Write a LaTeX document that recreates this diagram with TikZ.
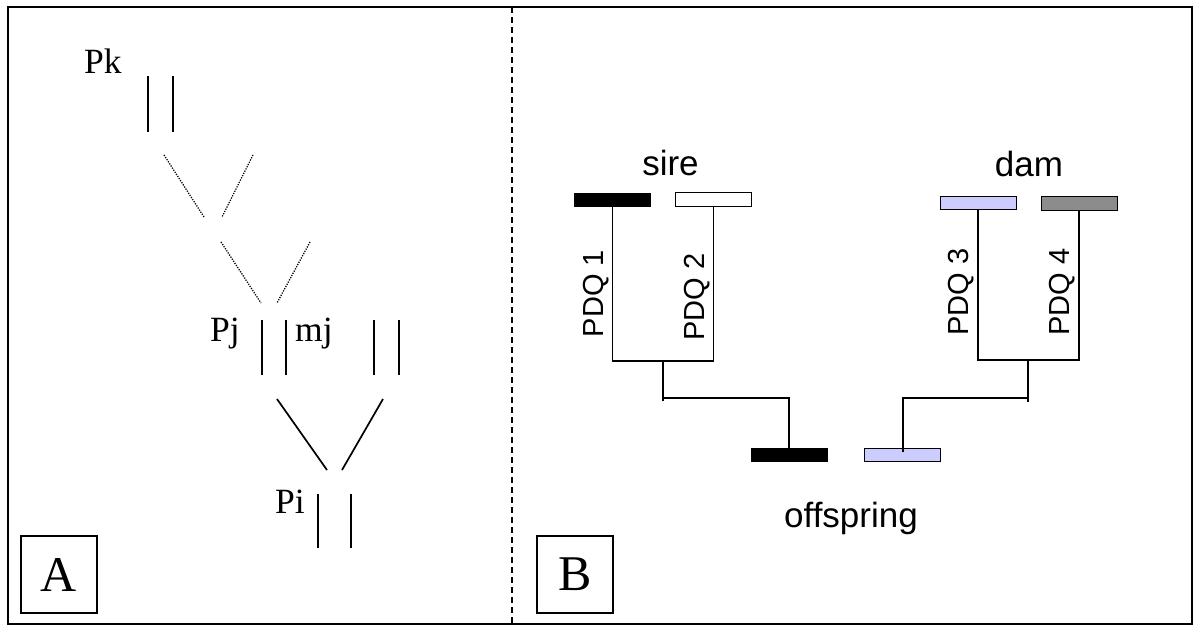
\documentclass[tikz,border=0pt]{standalone}
\usepackage{fontspec}
\setmainfont{Liberation Serif}
\setsansfont{Liberation Sans}
\definecolor{lblue}{HTML}{CCCCFF}
\definecolor{dgray}{HTML}{8C8C8C}
\tikzset{
  frameline/.style={line width=1.8pt},
  panelbox/.style={draw, line width=1.3pt, minimum width=76pt, minimum height=77pt, inner sep=0pt, font=\fontsize{50}{55}\selectfont},
  chrom/.style={line width=1.7pt},
  dotline/.style={line width=1.3pt, dash pattern=on 1.2pt off 1.3pt},
  solidline/.style={line width=1.7pt},
  serlabel/.style={anchor=base west, inner sep=0pt, font=\fontsize{35.5}{40}\selectfont},
  sanslabel/.style={anchor=base, inner sep=0pt, font=\sffamily\fontsize{35}{40}\selectfont},
  pdq/.style={rotate=90, inner sep=0pt, font=\sffamily\fontsize{29}{33}\selectfont},
  bar/.style={draw, line width=1pt, minimum width=76pt, minimum height=13pt, inner sep=0pt},
  conn/.style={line width=1.2pt}
}
\begin{document}
\begin{tikzpicture}[x=1pt,y=-1pt]
\useasboundingbox (0,0) rectangle (1200,632);
% outer frame and divider
\draw[frameline] (8,7) rectangle (1192,624);
\coordinate (divtop) at (512,7);
\coordinate (divbot) at (512,624);
\draw[line width=1.2pt, dash pattern=on 6pt off 4pt] (divtop) -- (divbot);
% panel boxes
\node[panelbox] (boxA) at (59,574.5) {A};
\node[panelbox] (boxB) at (575,574.5) {B};

% ---------- Panel A ----------
\node[serlabel] (Pk) at (84,73) {Pk};
\node[serlabel] (Pj) at (210,341) {Pj};
\node[serlabel] (mj) at (295,341) {mj};
\node[serlabel] (Pi) at (275,513) {Pi};
% chromosome pairs
\draw[chrom] (148,76) -- (148,132);
\draw[chrom] (173,76) -- (173,132);
\draw[chrom] (262,320) -- (262,375);
\draw[chrom] (286,320) -- (286,375);
\draw[chrom] (374,320) -- (374,375);
\draw[chrom] (399,320) -- (399,375);
\draw[chrom] (318,494) -- (318,548);
\draw[chrom] (351,494) -- (351,548);
% dotted lineage
\draw[dotline] (164,155) -- (204,217);
\draw[dotline] (253,155) -- (222,217);
\draw[dotline] (221,242) -- (261,303);
\draw[dotline] (310,242) -- (277,303);
% solid lineage
\draw[solidline] (277,399) -- (327,470);
\draw[solidline] (383,399) -- (342,470);

% ---------- Panel B ----------
\node[sanslabel] (sire) at (670.5,175) {sire};
\node[sanslabel] (dam) at (1029,176) {dam};
\node[sanslabel] (offspring) at (851,527) {offspring};

\node[bar, fill=black] (b1) at (612.5,199.5) {};
\node[bar, fill=white, minimum height=14pt] (b2) at (713.5,199) {};
\node[bar, fill=lblue] (b3) at (978,202.5) {};
\node[bar, fill=dgray, minimum height=14pt] (b4) at (1079,203.5) {};
\node[bar, fill=black] (o1) at (789,454.5) {};
\node[bar, fill=lblue] (o2) at (902.5,454.5) {};

\coordinate (j1) at (663,361);
\coordinate (j2) at (663,398);
\coordinate (j2b) at (663,401);
\coordinate (k1) at (1028,360);
\coordinate (k2) at (1028,398);
\coordinate (k2b) at (1028,402);
\coordinate (o2in) at (903,452);

\draw[conn] (b1.south) |- (j1);
\draw[conn] (b2.south) |- (j1);
\draw[conn] (j1) -- (j2b);
\draw[conn] (j2) -| (o1.north);
\draw[conn] (b3.south) |- (k1);
\draw[conn] (b4.south) |- (k1);
\draw[conn] (k1) -- (k2b);
\draw[conn] (k2) -| (o2in);

\node[pdq] (pdq1) at (596.5,293.5) {PDQ 1};
\node[pdq] (pdq2) at (697,297) {PDQ 2};
\node[pdq] (pdq3) at (961,292) {PDQ 3};
\node[pdq] (pdq4) at (1062,292) {PDQ 4};
\end{tikzpicture}
\end{document}
